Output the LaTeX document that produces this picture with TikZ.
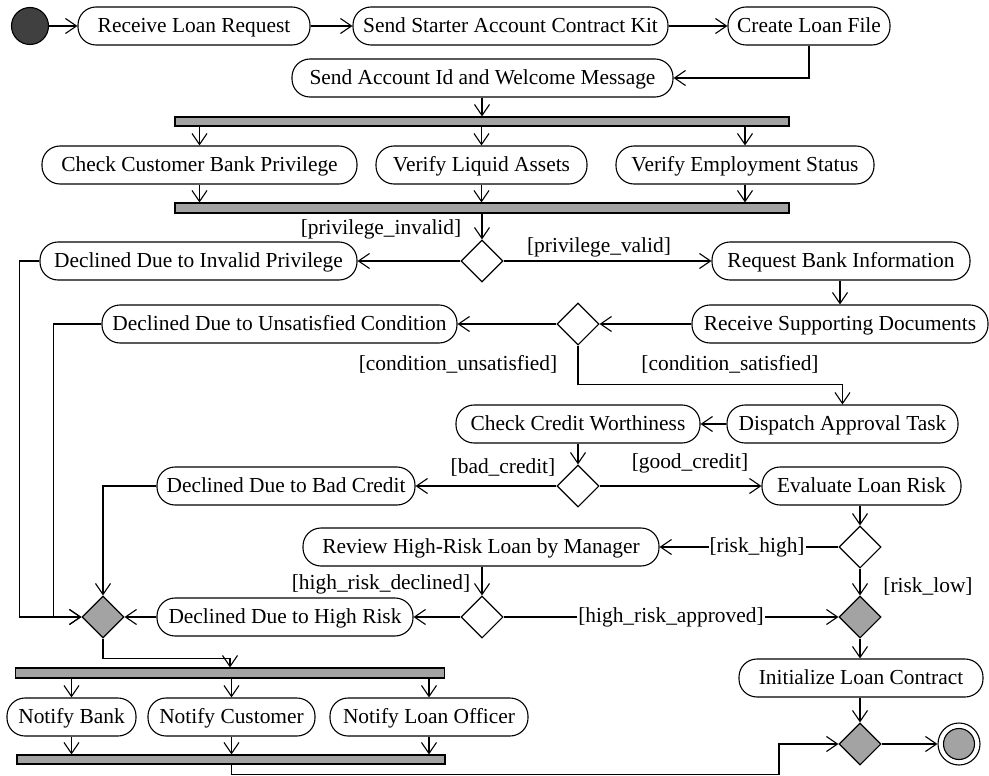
\documentclass[tikz,border=0pt]{standalone}
\usepackage{fontspec}
\setmainfont{Liberation Serif}
\usetikzlibrary{shapes.geometric,arrows.meta}
\newcommand{\umlfont}{\fontsize{21.4}{24}\selectfont}
\definecolor{barfill}{HTML}{A3A3A3}
\definecolor{startfill}{HTML}{404040}
\tikzset{
    act/.style={draw, line width=1.1pt, rounded corners=18pt, minimum height=38pt,
        minimum width=#1, inner xsep=6pt, inner ysep=0pt, text height=16pt, text depth=3.5pt,
        font=\umlfont},
    bar/.style={draw, line width=1.1pt, fill=barfill, inner sep=0pt},
    decision/.style={draw, line width=1.1pt, diamond, fill=white, minimum width=42pt,
        minimum height=42pt, inner sep=0pt},
    merge/.style={decision, fill=barfill},
    guard/.style={font=\umlfont, inner sep=1pt},
    flow/.style={line width=1.1pt, -{Straight Barb[length=11pt,width=15pt,line width=1.1pt]}},
    initial/.style={draw, line width=1.1pt, circle, fill=startfill, minimum size=37pt, inner sep=0pt},
    final/.style={draw, line width=1.1pt, circle, minimum size=42pt, inner sep=0pt,
        path picture={\draw[line width=1.1pt, fill=barfill] (path picture bounding box.center) circle (15.5pt);}}
}
\begin{document}
\begin{tikzpicture}[x=1pt, y=-1pt]
    \useasboundingbox (0,0) rectangle (989,776);

    % request and account set-up
    \node[initial] (start) at (30,26) {};
    \node[act=232] (rlr) at (194,26) {Receive Loan Request};
    \node[act=315] (ssack) at (510.5,26) {Send Starter Account Contract Kit};
    \node[act=162] (clf) at (809,26) {Create Loan File};
    \node[act=381] (saiwm) at (482.5,78) {Send Account Id and Welcome Message};

    \draw[flow] (start) -- (rlr);
    \draw[flow] (rlr) -- (ssack);
    \draw[flow] (ssack) -- (clf);
    \draw[flow] (clf.south) |- (saiwm.east);

    % parallel checks
    \node[bar, minimum width=614pt, minimum height=9pt] (bar1) at (482,121.5) {};
    \node[act=315] (ccbp) at (199.5,165) {Check Customer Bank Privilege};
    \node[act=211] (vla) at (481.5,165) {Verify Liquid Assets};
    \node[act=258] (ves) at (745,165) {Verify Employment Status};
    \node[bar, minimum width=614pt, minimum height=10pt] (bar2) at (482,208) {};

    \draw[flow] (saiwm.south -| bar1) -- (bar1.north);
    \foreach \a in {ccbp, vla, ves} {
        \draw[flow] (bar1.south -| \a.north) -- (\a.north);
        \draw[flow] (\a.south) -- (\a.south |- bar2.north);
    }

    % privilege decision
    \node[decision] (d1) at (482,261) {};
    \node[act=317] (ddip) at (198.5,261) {Declined Due to Invalid Privilege};
    \node[act=258] (rbi) at (841,261) {Request Bank Information};
    \node[guard] (gpi) at (381,229) {[privilege\_invalid]};
    \node[guard] (gpv) at (599,247) {[privilege\_valid]};

    \draw[flow] (bar2.south -| d1.north) -- (d1.north);
    \draw[flow] (d1) -- (ddip);
    \draw[flow] (d1) -- (rbi);

    % conditions
    \node[act=296] (rsd) at (840,324) {Receive Supporting Documents};
    \node[decision] (d2) at (578,324) {};
    \node[act=355] (dduc) at (279.5,324) {Declined Due to Unsatisfied Condition};
    \node[guard] (gcu) at (458,364) {[condition\_unsatisfied]};
    \node[guard] (gcs) at (730,364) {[condition\_satisfied]};

    \draw[flow] (rbi.south -| rsd.north) -- (rsd.north);
    \draw[flow] (rsd) -- (d2);
    \draw[flow] (d2) -- (dduc);

    % credit
    \node[act=231] (dat) at (842.5,424) {Dispatch Approval Task};
    \node[act=244] (ccw) at (578,424) {Check Credit Worthiness};
    \node[decision] (d3) at (578,486) {};
    \node[act=258] (ddbc) at (286,486) {Declined Due to Bad Credit};
    \node[act=199] (elr) at (861.5,486) {Evaluate Loan Risk};
    \node[guard] (gbc) at (503,468) {[bad\_credit]};
    \node[guard] (ggc) at (690,463) {[good\_credit]};

    \draw[flow] (d2.south) -- ++(0,39) -| (dat.north);
    \draw[flow] (dat) -- (ccw);
    \draw[flow] (ccw.south -| d3.north) -- (d3.north);
    \draw[flow] (d3) -- (ddbc);
    \draw[flow] (d3) -- (elr);

    % risk
    \node[decision] (d4) at (860,547) {};
    \node[act=356] (rhrlm) at (481,547) {Review High-Risk Loan by Manager};
    \node[decision] (d5) at (482,617) {};
    \node[act=256] (ddhr) at (285,617) {Declined Due to High Risk};
    \node[merge] (m1) at (103,617) {};
    \node[merge] (m2) at (860,617) {};
    \node[guard] (grl) at (928,587) {[risk\_low]};
    \node[guard] (ghd) at (381,584) {[high\_risk\_declined]};

    \draw[flow] (elr.south -| d4.north) -- (d4.north);
    \draw[flow] (d4) -- node[guard, fill=white, pos=0.455] (grh) {[risk\_high]} (rhrlm);
    \draw[flow] (d4) -- (m2);
    \draw[flow] (rhrlm.south -| d5.north) -- (d5.north);
    \draw[flow] (d5) -- (ddhr);
    \draw[flow] (d5) -- node[guard, fill=white] (gha) {[high\_risk\_approved]} (m2);

    % declined branches
    \draw[flow] (ddip.west) -- ++(-20,0) |- (m1.west);
    \draw[flow] (dduc.west) -- ++(-48,0) |- (m1.west);
    \draw[flow] (ddbc.west) -| (m1.north);
    \draw[flow] (ddhr) -- (m1);

    % notifications
    \node[bar, minimum width=429pt, minimum height=10pt] (bar3) at (230,673) {};
    \node[act=129] (nb) at (71.5,717) {Notify Bank};
    \node[act=167] (nc) at (231.5,717) {Notify Customer};
    \node[act=198] (nlo) at (429,717) {Notify Loan Officer};
    \node[bar, minimum width=428pt, minimum height=9pt] (bar4) at (231,759.5) {};

    \draw[flow] (m1.south) -- ++(0,20) -| (bar3.north);
    \foreach \a in {nb, nc, nlo} {
        \draw[flow] (bar3.south -| \a.north) -- (\a.north);
        \draw[flow] (\a.south) -- (\a.south |- bar4.north);
    }

    % contract and end
    \node[act=244] (ilc) at (861,678) {Initialize Loan Contract};
    \node[merge] (m3) at (860,744) {};
    \node[final] (end) at (959,744) {};
    \coordinate (jog) at (779,744);

    \draw[flow] (m2.south) -- (m2.south |- ilc.north);
    \draw[flow] (ilc.south -| m3.north) -- (m3.north);
    \draw[flow] (bar4.south -| nc) -- ++(0,10) -| (jog) -- (m3.west);
    \draw[flow] (m3) -- (end);
\end{tikzpicture}
\end{document}
